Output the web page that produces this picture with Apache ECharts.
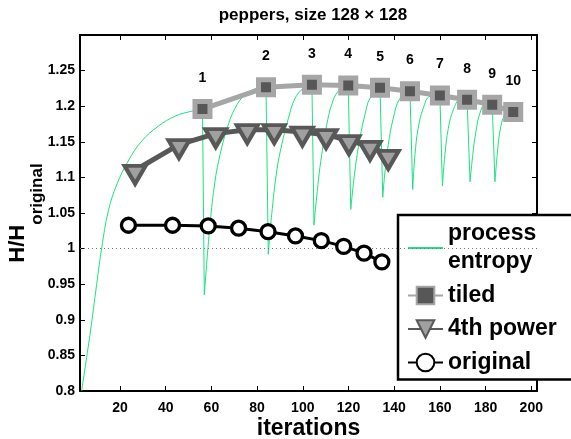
<!DOCTYPE html>
<html>
<head>
<meta charset="utf-8">
<script src="https://cdn.jsdelivr.net/npm/echarts@6/dist/echarts.min.js"></script>
<style>
html,body{margin:0;padding:0;background:#fff;}
#chart{width:571px;height:439px;}
</style>
</head>
<body>
<div id="chart"></div>
<script>
// ---- data ----
const iterTicks = [20, 40, 60, 80, 100, 120, 140, 160, 180, 200];
const hTicks = [0.8, 0.85, 0.9, 0.95, 1, 1.05, 1.1, 1.15, 1.2, 1.25];

const tiledX = [56.1, 83.9, 104.0, 119.9, 133.8, 146.9, 160.0, 171.9, 182.9, 192.1];
const tiledY = [1.196, 1.2265, 1.230, 1.229, 1.226, 1.221, 1.215, 1.209, 1.202, 1.192];
const tiledLabels = ['1', '2', '3', '4', '5', '6', '7', '8', '9', '10'];

const powerX = [26.6, 45.8, 61.9, 75.7, 87.5, 99.8, 110.2, 120.2, 129.4, 137.4];
const powerY = [1.110, 1.146, 1.1615, 1.167, 1.167, 1.1637, 1.160, 1.1517, 1.1437, 1.131];

const origX = [23.7, 43.0, 58.6, 71.9, 84.8, 96.8, 108.1, 117.9, 126.8, 134.6];
const origY = [1.0328, 1.0328, 1.0318, 1.0287, 1.0238, 1.0178, 1.0112, 1.0031, 0.9936, 0.9814];

const entX = [3.2, 6.9, 9.8, 12.0, 14.9, 18.6, 23.6, 29.5, 36.8, 44.1, 51.4, 56.1,
  56.9, 59.4, 61.6, 63.8, 66.7, 70.3, 74.7, 79.8, 83.9,
  84.9, 86.4, 88.6, 90.8, 93.7, 96.6, 100.2, 104.0,
  104.9, 106.8, 108.3, 110.5, 112.6, 115.5, 119.9,
  121.0, 122.8, 125.0, 127.2, 129.4, 133.8,
  135.0, 136.0, 137.4, 139.6, 142.5, 146.9,
  148.1, 149.1, 150.5, 152.7, 155.7, 160.0,
  161.1, 162.2, 163.7, 165.9, 168.8, 171.9,
  173.2, 174.4, 175.8, 177.5, 179.7, 182.9,
  184.1, 185.1, 186.3, 188.5, 192.1];
const entY = [0.800, 0.880, 0.950, 1.001, 1.053, 1.090, 1.123, 1.151, 1.172, 1.186, 1.193, 1.196,
  0.935, 1.034, 1.095, 1.132, 1.167, 1.197, 1.216, 1.225, 1.2265,
  0.992, 1.048, 1.109, 1.146, 1.183, 1.211, 1.225, 1.230,
  1.033, 1.095, 1.132, 1.174, 1.202, 1.221, 1.229,
  1.055, 1.109, 1.155, 1.188, 1.211, 1.226,
  1.072, 1.109, 1.146, 1.183, 1.211, 1.221,
  1.083, 1.132, 1.169, 1.197, 1.214, 1.215,
  1.088, 1.132, 1.169, 1.195, 1.209, 1.209,
  1.094, 1.132, 1.165, 1.190, 1.202, 1.202,
  1.094, 1.132, 1.165, 1.188, 1.192];

const pairs = (xs, ys) => xs.map((x, i) => [x, ys[i]]);

// split the entropy trace into its rising runs (a new run starts where the value falls)
const entPts = pairs(entX, entY);
const runs = [];
entPts.forEach((p, i) => {
  if (i === 0 || p[1] < entPts[i - 1][1]) runs.push([]);
  runs[runs.length - 1].push(p);
});

const FONT = 'Liberation Sans';
const GREEN = '#1ae37f';
const chart = echarts.init(document.getElementById('chart'), null, {renderer: 'canvas'});

const frameAxis = {
  axisLine: {show: true, onZero: false, lineStyle: {color: '#000', width: 2}},
  splitLine: {show: false}
};

const entropySeries = [];
runs.forEach((run, k) => {
  const s = {
    name: 'process entropy', type: 'line', z: 1, data: run,
    symbol: 'none', smooth: 0.4, silent: true,
    itemStyle: {color: GREEN}, lineStyle: {color: GREEN, width: 1}
  };
  if (k === 0) {
    s.markLine = {
      silent: true, symbol: ['none', 'none'], label: {show: false},
      lineStyle: {type: [1, 3], color: '#777', width: 1},
      data: [{yAxis: 1}]
    };
  }
  entropySeries.push(s);
  if (k > 0) {
    const prev = runs[k - 1];
    entropySeries.push({
      name: 'process entropy', type: 'line', z: 1, silent: true,
      data: [prev[prev.length - 1], run[0]],
      symbol: 'none', smooth: false,
      itemStyle: {color: GREEN}, lineStyle: {color: GREEN, width: 1}
    });
  }
});

chart.setOption({
  animation: false,
  backgroundColor: '#fff',
  textStyle: {fontFamily: FONT},
  title: {
    text: 'peppers, size 128 \u00d7 128',
    left: 308, top: 2, textAlign: 'center',
    textStyle: {fontFamily: FONT, fontSize: 17, fontWeight: 'bold', color: '#000'}
  },
  grid: {left: 80, right: 34, top: 35, bottom: 48, containLabel: false, outerBoundsMode: 'none'},
  legend: {
    orient: 'vertical', left: 398, top: 215,
    data: [
      {name: 'process entropy', itemStyle: {color: 'rgba(0,0,0,0)', borderWidth: 0, opacity: 0}},
      'tiled', '4th power', 'original'
    ],
    formatter: (n) => n === 'process entropy' ? 'process\nentropy' : n,
    backgroundColor: '#fff', borderColor: '#000', borderWidth: 2.5, borderRadius: 0,
    padding: [5, 30, 3, 9], itemGap: 5.5, itemWidth: 35, itemHeight: 22,
    textStyle: {fontFamily: FONT, fontSize: 23, fontWeight: 'bold', color: '#000', lineHeight: 28}
  },
  xAxis: [
    Object.assign({
      type: 'value', min: 2.5, max: 202.5, position: 'bottom',
      axisTick: {show: true, inside: true, length: 5, customValues: iterTicks, lineStyle: {color: '#000', width: 1}},
      axisLabel: {show: true, customValues: iterTicks, color: '#000', fontSize: 14, fontWeight: 'bold', margin: 10, fontFamily: FONT},
      name: 'iterations', nameLocation: 'middle', nameGap: 26, nameMoveOverlap: false,
      nameTextStyle: {fontFamily: FONT, fontSize: 23, fontWeight: 'bold', color: '#000'}
    }, frameAxis),
    Object.assign({
      type: 'value', min: 2.5, max: 202.5, position: 'top',
      axisTick: {show: true, inside: true, length: 5, customValues: iterTicks, lineStyle: {color: '#000', width: 1}},
      axisLabel: {show: false}
    }, frameAxis)
  ],
  yAxis: [
    Object.assign({
      type: 'value', min: 0.8, max: 1.3, position: 'left',
      axisTick: {show: true, inside: true, length: 5, customValues: hTicks, lineStyle: {color: '#000', width: 1}},
      axisLabel: {show: true, customValues: hTicks, formatter: (v) => String(v), color: '#000', fontSize: 14, fontWeight: 'bold', margin: 5, fontFamily: FONT},
      name: '{a|H/H}{b|original}', nameLocation: 'middle', nameGap: 34.5, nameMoveOverlap: false,
      nameTextStyle: {
        color: '#000', fontFamily: FONT, fontWeight: 'bold',
        rich: {
          a: {fontFamily: FONT, fontSize: 22, fontWeight: 'bold', color: '#000', verticalAlign: 'top'},
          b: {fontFamily: FONT, fontSize: 17, fontWeight: 'bold', color: '#000', lineHeight: 39, verticalAlign: 'bottom'}
        }
      }
    }, frameAxis),
    Object.assign({
      type: 'value', min: 0.8, max: 1.3, position: 'right',
      axisTick: {show: true, inside: true, length: 5, customValues: hTicks, lineStyle: {color: '#000', width: 1}},
      axisLabel: {show: false}
    }, frameAxis)
  ],
  series: entropySeries.concat([
    {
      name: 'tiled', type: 'line', z: 3,
      data: pairs(tiledX, tiledY),
      symbol: 'rect', symbolSize: 15,
      itemStyle: {color: '#575757', borderColor: '#a6a6a6', borderWidth: 5},
      lineStyle: {color: '#a6a6a6', width: 5},
      label: {
        show: true, position: 'top', distance: 14,
        formatter: (p) => tiledLabels[p.dataIndex],
        color: '#000', fontSize: 14, fontWeight: 'bold', fontFamily: FONT
      }
    },
    {
      name: '4th power', type: 'line', z: 4,
      data: pairs(powerX, powerY),
      symbol: 'triangle', symbolRotate: 180, symbolSize: [21, 18], symbolOffset: [0, 4.5],
      itemStyle: {color: '#a0a0a0', borderColor: '#585858', borderWidth: 4},
      lineStyle: {color: '#585858', width: 5}
    },
    {
      name: 'original', type: 'line', z: 5,
      data: pairs(origX, origY),
      symbol: 'circle', symbolSize: 14,
      itemStyle: {color: '#fff', borderColor: '#000', borderWidth: 3.3},
      lineStyle: {color: '#000', width: 3}
    }
  ])
});
</script>
</body>
</html>
